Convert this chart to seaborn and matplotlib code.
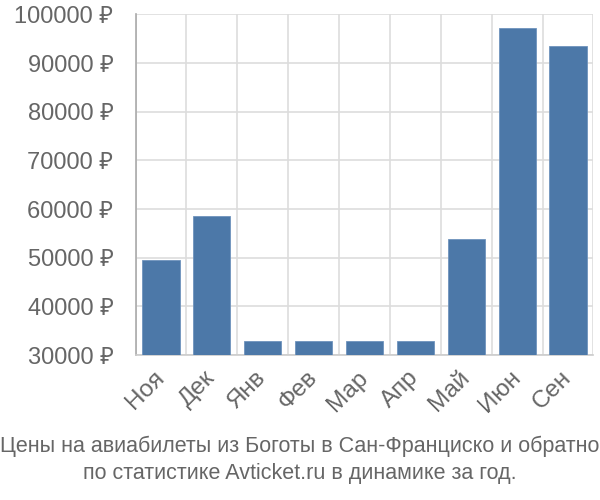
import matplotlib
matplotlib.use("Agg")
import matplotlib.pyplot as plt
import seaborn as sns
import pandas as pd
import numpy as np

months = ["Ноя", "Дек", "Янв", "Фев", "Мар", "Апр", "Май", "Июн", "Сен"]
prices = [49500, 58500, 32900, 32900, 32900, 32900, 53800, 97200, 93600]
yticks = [30000, 40000, 50000, 60000, 70000, 80000, 90000, 100000]
title_lines = ["Цены на авиабилеты из Боготы в Сан-Франциско и обратно",
               "по статистике Avticket.ru в динамике за год."]

sns.set_style("white")
plt.rcParams['font.family'] = ['Liberation Sans', 'Noto Sans', 'DejaVu Sans']

text_color = "#666666"
grid_color = "#dddddd"

df = pd.DataFrame({"month": months, "price": prices})

fig = plt.figure(figsize=(6, 5), dpi=100)
ax = fig.add_axes([0.226, 0.29, 0.763, 0.681])
sns.barplot(data=df, x="month", y="price", color="#4c78a8", width=0.73,
            saturation=1, ax=ax, edgecolor="#6f93bd", linewidth=0.6, zorder=3)

ax.set_ylim(30000, 100000)
ax.set_xlim(-0.5, len(months) - 0.5)
ax.set_yticks(yticks)
ax.set_yticklabels([f"{v} ₽" for v in yticks])
ax.set_xlabel("")
ax.set_ylabel("")

ax.set_xticks(np.arange(-0.5, len(months), 1.0), minor=True)
ax.grid(True, which="minor", axis="x", color=grid_color, linewidth=1.2, zorder=0)
ax.grid(True, which="major", axis="y", color=grid_color, linewidth=1.2, zorder=0)
ax.tick_params(axis="x", which="minor", length=14, width=1.2, color=grid_color)
ax.tick_params(axis="x", which="major", length=0, pad=14)
ax.tick_params(axis="y", which="major", length=14, width=1.2, color=grid_color,
               labelsize=17, labelcolor=text_color, pad=2)

for lab in ax.get_xticklabels():
    lab.set_rotation(45)
    lab.set_ha("right")
    lab.set_va("center")
    lab.set_rotation_mode("anchor")
    lab.set_fontsize(17.5)
    lab.set_color(text_color)

for side in ["top", "right"]:
    ax.spines[side].set_visible(False)
ax.spines["left"].set_color("#aaaaaa")
ax.spines["left"].set_linewidth(1.2)
ax.spines["bottom"].set_color("#cccccc")
ax.spines["bottom"].set_linewidth(1.2)

fig.text(0.5, 1 - 446 / 500, title_lines[0], ha="center", va="center",
         fontsize=15.5, color=text_color)
fig.text(0.5, 1 - 473 / 500, title_lines[1], ha="center", va="center",
         fontsize=15.5, color=text_color)

fig.savefig("out.png", dpi=100)
